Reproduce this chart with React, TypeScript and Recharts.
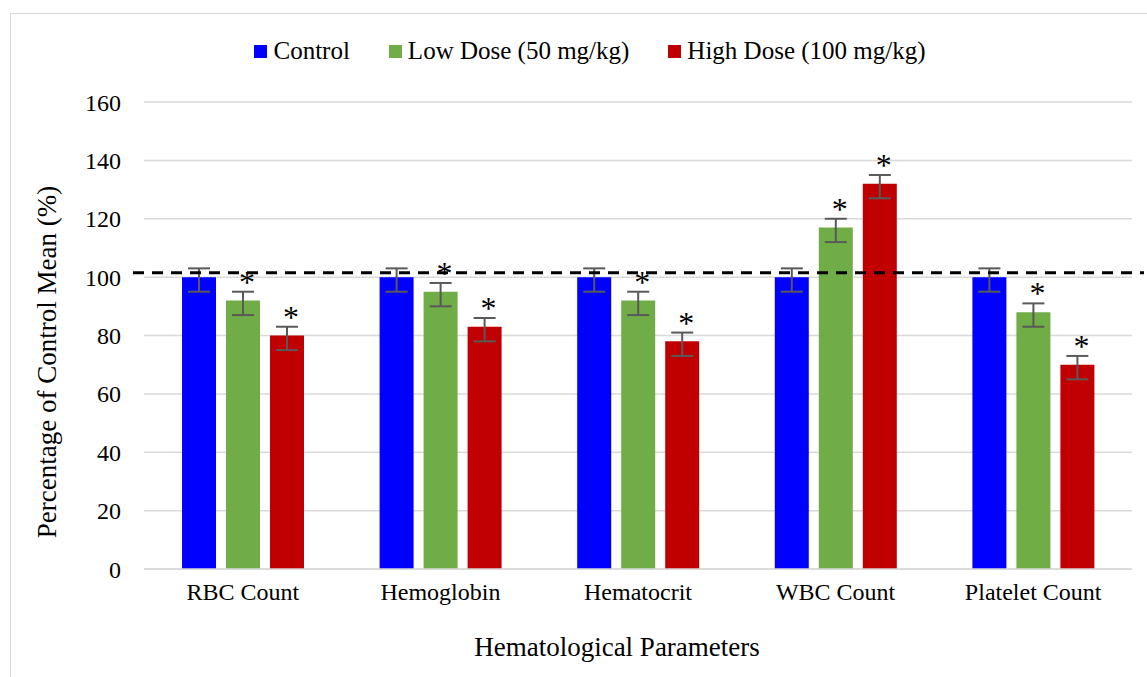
import React from "react";
import {
  BarChart, Bar, XAxis, YAxis, CartesianGrid, Legend, ErrorBar, LabelList, ReferenceLine,
} from "recharts";

const CATEGORIES = ["RBC Count", "Hemoglobin", "Hematocrit", "WBC Count", "Platelet Count"];
const CONTROL = [100, 100, 100, 100, 100];
const LOW_DOSE = [92, 95, 92, 117, 88];
const HIGH_DOSE = [80, 83, 78, 132, 70];
// error bars drawn as [below, above] the bar top
const ERR_RANGE = [5, 3];
const LOW_SIG = [true, true, true, true, true];
const HIGH_SIG = [true, true, true, true, true];
const Y_TICKS = [0, 20, 40, 60, 80, 100, 120, 140, 160];
const CONTROL_LINE = 101.5;

const SERIES = [
  { key: "control", name: "Control", color: "#0000FF" },
  { key: "low", name: "Low Dose (50 mg/kg)", color: "#70AD47" },
  { key: "high", name: "High Dose (100 mg/kg)", color: "#C00000" },
];

const data = CATEGORIES.map((name, i) => ({
  name,
  control: CONTROL[i],
  low: LOW_DOSE[i],
  high: HIGH_DOSE[i],
  err: ERR_RANGE,
  lowSig: LOW_SIG[i] ? "*" : "",
  highSig: HIGH_SIG[i] ? "*" : "",
}));

const FONT = "'Liberation Serif', 'Times New Roman', serif";

const starRenderer = (key: "low" | "high") => (props: any) => {
  const { x, y, width, height, value, index } = props;
  if (!value) return null;
  const v = data[index][key];
  const capY = y - (ERR_RANGE[1] * height) / v;
  const cy = capY - 14;
  return (
    <text x={x + width / 2 + 4} y={cy + 15} textAnchor="middle" fontSize={32} fontFamily={FONT} fill="#000">
      *
    </text>
  );
};

const renderLegend = () => (
  <div style={{ display: "flex", justifyContent: "center", alignItems: "center", gap: 39, fontFamily: FONT, fontSize: 25, color: "#000", height: 26 }}>
    {SERIES.map((s) => (
      <div key={s.key} style={{ display: "flex", alignItems: "center" }}>
        <span style={{ width: 13, height: 13, background: s.color, display: "inline-block", marginRight: 6 }} />
        <span>{s.name}</span>
      </div>
    ))}
  </div>
);

export default function App() {
  return (
    <div style={{ position: "absolute", left: 0, top: 0, width: 1147, height: 677, overflow: "hidden", background: "#fff" }}>
      <div style={{ position: "absolute", left: 10, top: 13, width: 1200, height: 720, border: "1.5px solid #d9d9d9" }} />
      <div style={{ position: "absolute", left: 0, top: 0 }}>
        <BarChart
          width={1147}
          height={677}
          data={data}
          margin={{ top: 76, right: 15, left: 0, bottom: 0 }}
          barSize={34}
          barGap={10}
        >
          <Legend
            verticalAlign="top"
            height={26}
            content={renderLegend}
            wrapperStyle={{ top: 38, left: 0, width: 1180 }}
          />
          <CartesianGrid vertical={false} stroke="#d9d9d9" strokeWidth={1.5} />
          <XAxis
            dataKey="name"
            height={108}
            tickLine={false}
            tickSize={0}
            tickMargin={14}
            axisLine={{ stroke: "#d9d9d9", strokeWidth: 1.5 }}
            tick={{ fontFamily: FONT, fontSize: 24, fill: "#000" }}
            label={{
              content: () => (
                <text x={617} y={656} textAnchor="middle" fontFamily={FONT} fontSize={27} fill="#000">
                  Hematological Parameters
                </text>
              ),
            }}
          />
          <YAxis
            width={144}
            domain={[0, 160]}
            ticks={Y_TICKS}
            axisLine={false}
            tickLine={false}
            tickSize={0}
            tickMargin={23}
            tick={{ fontFamily: FONT, fontSize: 24, fill: "#000" }}
            label={{
              content: () => (
                <text
                  x={47}
                  y={362}
                  transform="rotate(-90 47 362)"
                  textAnchor="middle"
                  dominantBaseline="central"
                  fontFamily={FONT}
                  fontSize={27}
                  fill="#000"
                >
                  Percentage of Control Mean (%)
                </text>
              ),
            }}
          />
          {SERIES.map((s) => (
            <Bar key={s.key} dataKey={s.key} name={s.name} fill={s.color} isAnimationActive={false}>
              <ErrorBar dataKey="err" width={11} strokeWidth={2} stroke="#595959" direction="y" />
              {s.key !== "control" && (
                <LabelList dataKey={s.key + "Sig"} content={starRenderer(s.key as "low" | "high")} />
              )}
            </Bar>
          ))}
          <ReferenceLine
            y={CONTROL_LINE}
            shape={(p: any) => (
              <line x1={p.x1 - 11} y1={p.y1} x2={p.x2 + 12} y2={p.y2} stroke="#000" strokeWidth={3} strokeDasharray="11 8" />
            )}
          />
        </BarChart>
      </div>
    </div>
  );
}
